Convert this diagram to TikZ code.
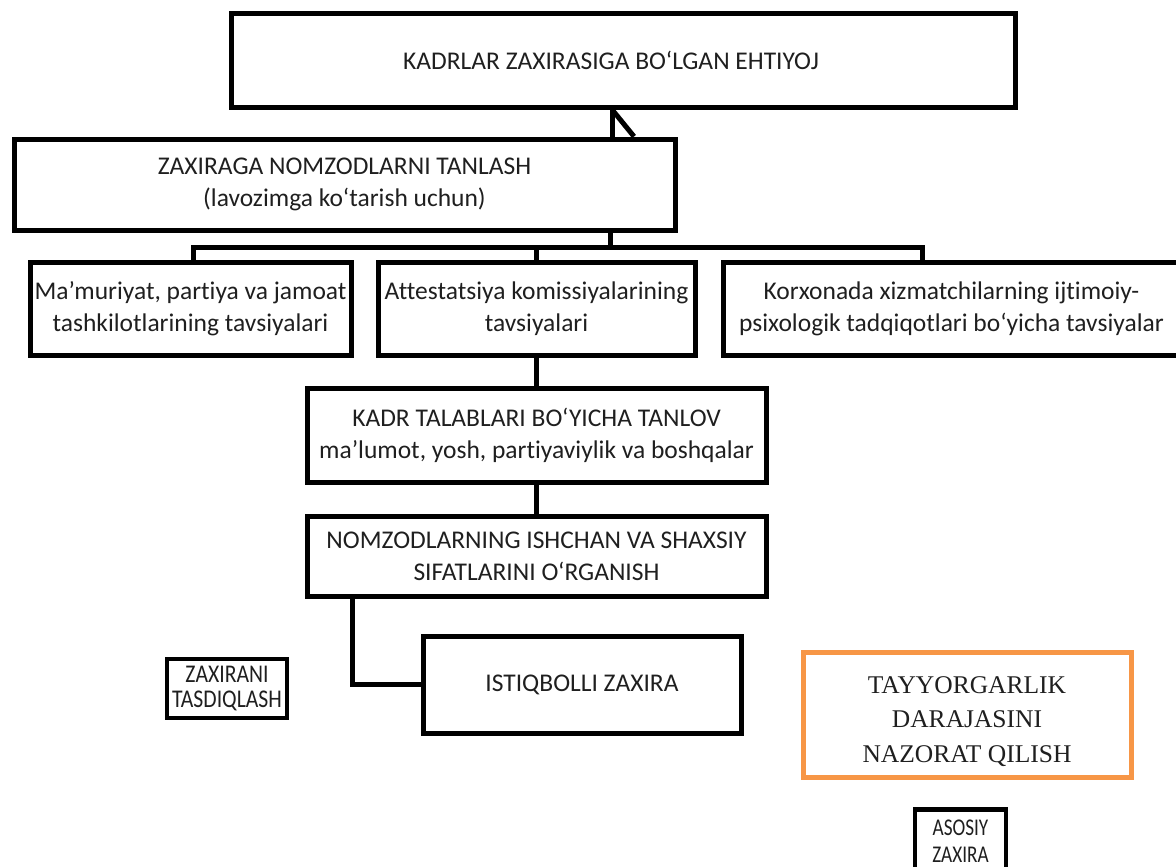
\documentclass[tikz,border=0pt]{standalone}
\usepackage{fontspec}
\setmainfont[Ligatures=NoCommon]{Carlito}
\newfontfamily\timesfont{Liberation Serif}
\newfontfamily\narrowfont[FakeStretch=0.8,Ligatures=NoCommon]{Carlito}
\newfontfamily\smallfont[FakeStretch=0.85,Ligatures=NoCommon]{Carlito}
\definecolor{boxorange}{HTML}{F79646}

\begin{document}
\begin{tikzpicture}[x=1pt,y=-1pt,line width=5pt,
	box/.style={draw, inner sep=0pt, align=center, text=black!88, font=\fontsize{25.5}{32}\selectfont},
	smallbox/.style={draw, line width=4.5pt, inner sep=0pt, align=center, text=black!88}]

	\clip (0,0) rectangle (1176,867);

	%top level
	\node[box, minimum width=784pt, minimum height=93pt] (need) at (623,60.5){KADRLAR ZAXIRASIGA BO‘LGAN EHTIYOJ\hspace*{24pt}};
	\node[box, minimum width=661pt, minimum height=91pt] (select) at (344.5,184.5){ZAXIRAGA NOMZODLARNI TANLASH\\(lavozimga ko‘tarish uchun)};

	%recommendations
	\node[box, minimum width=321pt, minimum height=93pt] (rec1) at (190.5,308.5){Ma’muriyat, partiya va jamoat\\tashkilotlarining tavsiyalari};
	\node[box, minimum width=317pt, minimum height=93pt] (rec2) at (536.5,308.5){Attestatsiya komissiyalarining\\tavsiyalari};
	\node[box, minimum width=457pt, minimum height=93pt] (rec3) at (951.5,308.5){Korxonada xizmatchilarning ijtimoiy-\\psixologik tadqiqotlari bo‘yicha tavsiyalar};

	%selection and study
	\node[box, minimum width=459pt, minimum height=94pt] (demand) at (536.5,435){KADR TALABLARI BO‘YICHA TANLOV\\ma’lumot, yosh, partiyaviylik va boshqalar};
	\node[box, minimum width=459pt, minimum height=80pt] (study) at (536.5,556){NOMZODLARNING ISHCHAN VA SHAXSIY\\SIFATLARINI O‘RGANISH};

	%reserve level
	\node[box, minimum width=318pt, minimum height=97pt] (future) at (582,684.5){ISTIQBOLLI ZAXIRA};
	\node[smallbox, minimum width=120pt, minimum height=59pt, font=\smallfont\fontsize{25.5}{25}\selectfont] (confirm) at (227,688.5){ZAXIRANI\\TASDIQLASH};
	\node[box, draw=boxorange, minimum width=328pt, minimum height=125pt, font=\timesfont\fontsize{25.5}{34.5}\selectfont] (control) at (967,714.5){\rule{0pt}{31pt}TAYYORGARLIK\\DARAJASINI\\NAZORAT QILISH};
	\node[smallbox, anchor=north, minimum width=91pt, minimum height=64pt, font=\narrowfont\fontsize{24}{27}\selectfont] (basic) at (960.5,807){ASOSIY\\ZAXIRA};

	%junctions
	\coordinate (tj) at (612,0);
	\coordinate (tk) at (634,0);
	\coordinate (busL) at (193,247);
	\coordinate (busM) at (610,247);
	\coordinate (busR) at (922,247);
	\coordinate (sj) at (352,0);

	\draw (need.south -| tj) -- (select.north -| tj);
	\draw (need.south -| tj) -- (select.north -| tk);

	\draw (select.south -| busM) -- (busM);
	\draw (rec1.north -| busL) |- (busR) -- (rec3.north -| busR);
	\draw (busL -| rec2.north) -- (rec2.north);

	\draw (rec2.south) -- (demand.north);
	\draw (demand.south) -- (study.north);
	\draw (study.south -| sj) |- (future.west);

\end{tikzpicture}
\end{document}
